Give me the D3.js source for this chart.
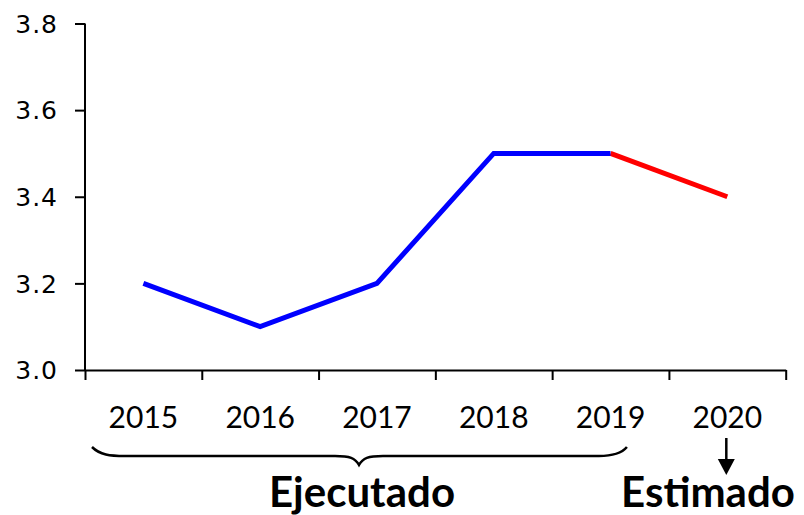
<!DOCTYPE html>
<html>
<head>
<meta charset="utf-8">
<script src="https://cdn.jsdelivr.net/npm/d3@7"></script>
<style>
html,body{margin:0;padding:0;background:#fff;}
svg{display:block;}
</style>
</head>
<body>
<svg id="chart" width="804" height="515"></svg>
<script>
const years = ["2015","2016","2017","2018","2019","2020"];
const values = [3.2, 3.1, 3.2, 3.5, 3.5, 3.4];
const executedYears = ["2015","2016","2017","2018","2019"];
const estimatedYears = ["2019","2020"];
const yTicks = [3.0, 3.2, 3.4, 3.6, 3.8];
const groupLabels = ["Ejecutado", "Estimado"];

const svg = d3.select("#chart");
const x = d3.scaleBand().domain(years).range([85, 785.7]).padding(0);
const y = d3.scaleLinear().domain([3.0, 3.8]).range([370, 23.5]);
const xEdge = d3.scaleLinear().domain([0, years.length]).range([85, 785.7]);

// Y axis
const yAxis = svg.append("g").attr("transform", "translate(85,0)")
  .call(d3.axisLeft(y).tickValues(yTicks).tickFormat(d3.format(".1f")).tickSize(10).tickPadding(17));
yAxis.select(".domain").attr("stroke", "#000").attr("stroke-width", 2).attr("d", "M0," + y(3.8) + "V" + y(3.0));
yAxis.selectAll(".tick line").attr("stroke", "#000").attr("stroke-width", 2);
yAxis.selectAll(".tick text").attr("font-family", "DejaVu Sans").attr("font-size", 25).attr("fill", "#000").attr("letter-spacing", 1).attr("dy", "0.35em");

// X axis (boundaries)
const xAxis = svg.append("g").attr("transform", "translate(0,370)")
  .call(d3.axisBottom(xEdge).tickValues(d3.range(years.length + 1)).tickFormat("").tickSize(10).tickSizeOuter(0));
xAxis.select(".domain").attr("stroke", "#000").attr("stroke-width", 2);
xAxis.selectAll(".tick line").attr("stroke", "#000").attr("stroke-width", 2);

// X labels
const xLab = svg.append("g").attr("transform", "translate(0,428)")
  .call(d3.axisBottom(x).tickSize(0).tickPadding(0));
xLab.select(".domain").remove();
xLab.selectAll(".tick text").attr("font-family", "Lato").attr("font-size", 30).attr("fill", "#000").attr("dy", 0).attr("y", 0);

// Lines
const line = d3.line().x(d => x(d.year) + x.bandwidth() / 2).y(d => y(d.value));
const data = years.map((yr, i) => ({year: yr, value: values[i]}));
svg.append("path").datum(data.filter(d => estimatedYears.includes(d.year)))
  .attr("d", line).attr("fill", "none").attr("stroke", "#ff0000").attr("stroke-width", 5);
svg.append("path").datum(data.filter(d => executedYears.includes(d.year)))
  .attr("d", line).attr("fill", "none").attr("stroke", "#0000ff").attr("stroke-width", 5);

// Brace under executed years
const bx0 = x("2015") + 7, bx1 = x("2019") + x.bandwidth() - 42;
const bm = 359;
const by = 456;
svg.append("path")
  .attr("d", `M${bx0},447 C${bx0+8},455 ${bx0+18},${by} ${bx0+33},${by} L${bm-24},${by} C${bm-9},${by} ${bm-4},${by+2} ${bm},465 C${bm+4},${by+2} ${bm+9},${by} ${bm+24},${by} L${bx1-28},${by} C${bx1-13},${by} ${bx1-5},${by-3} ${bx1},447`)
  .attr("fill", "none").attr("stroke", "#000").attr("stroke-width", 2.5);

// Arrow for estimated
const ax = x("2020") + x.bandwidth() / 2 - 1;
svg.append("line").attr("x1", ax).attr("x2", ax).attr("y1", 438).attr("y2", 462)
  .attr("stroke", "#000").attr("stroke-width", 2.5);
svg.append("path").attr("d", `M${ax-8.5},459 L${ax+8.5},459 L${ax},475 Z`).attr("fill", "#000");

// Group labels
svg.append("text").attr("x", 362).attr("y", 507).attr("text-anchor", "middle")
  .attr("font-family", "Lato").attr("font-weight", "bold").attr("font-size", 42).attr("fill", "#000").text(groupLabels[0]);
svg.append("text").attr("x", 708).attr("y", 507).attr("text-anchor", "middle")
  .attr("font-family", "Lato").attr("font-weight", "bold").attr("font-size", 42).attr("fill", "#000").text(groupLabels[1]);
</script>
</body>
</html>
